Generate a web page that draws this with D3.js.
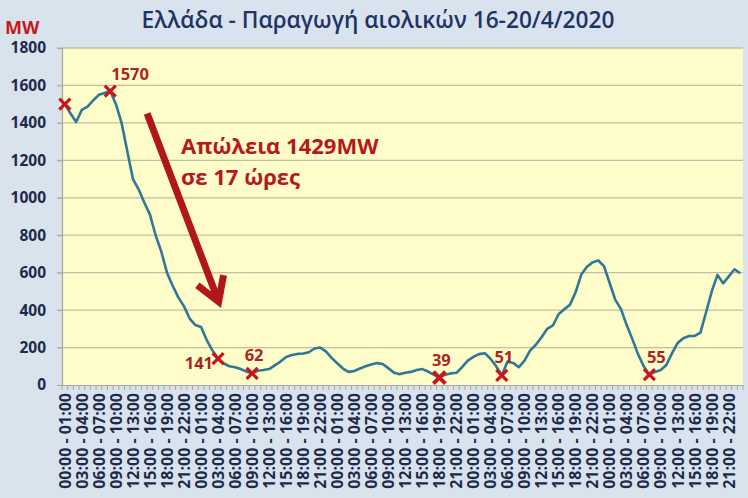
<!DOCTYPE html>
<html><head><meta charset="utf-8">
<script src="https://cdn.jsdelivr.net/npm/d3@7"></script>
<style>body{margin:0;background:#d9e3ee;} svg{display:block}</style>
</head><body><svg id="c" width="748" height="498"></svg>
<script>
// ---- data ----
const days = ["16/4", "17/4", "18/4", "19/4", "20/4"];
const hourLabels = ["00:00 - 01:00","01:00 - 02:00","02:00 - 03:00","03:00 - 04:00","04:00 - 05:00","05:00 - 06:00",
  "06:00 - 07:00","07:00 - 08:00","08:00 - 09:00","09:00 - 10:00","10:00 - 11:00","11:00 - 12:00",
  "12:00 - 13:00","13:00 - 14:00","14:00 - 15:00","15:00 - 16:00","16:00 - 17:00","17:00 - 18:00",
  "18:00 - 19:00","19:00 - 20:00","20:00 - 21:00","21:00 - 22:00","22:00 - 23:00","23:00 - 24:00"];
const windMW = [
  1500,1450,1405,1470,1487,1520,1550,1560,1570,1500,1400,1250,1100,1045,975,910,800,712,600,530,468,420,355,320,
  310,240,185,141,115,100,95,85,72,62,76,80,85,105,125,150,160,166,168,175,195,200,180,145,
  116,88,70,75,88,100,110,117,112,90,66,58,65,70,80,85,72,55,39,55,62,65,95,130,
  150,165,170,140,100,51,125,118,95,130,185,215,255,300,318,378,405,428,495,590,632,655,665,635,
  545,455,405,320,245,165,100,55,70,80,107,170,225,250,262,262,280,390,500,588,543,580,618,597];
const yTicks = [0,200,400,600,800,1000,1200,1400,1600,1800];
const markerIdx = [0, 8, 27, 33, 66, 77, 103];
const markerLabels = ["", "1570", "141", "62", "39", "51", "55"];
const titleText = "Ελλάδα - Παραγωγή αιολικών 16-20/4/2020";
const unitText = "MW";
const noteLines = ["Απώλεια 1429MW", "σε 17 ώρες"];

// ---- chart ----
const categories = days.flatMap(d => hourLabels.map(h => d + " " + h));
const hourOf = c => c.slice(c.indexOf(" ") + 1);

const svg = d3.select("#c");
const W = 748, H = 498;
const m = {l: 62, r: 5, t: 48, b: 113};
const x = d3.scaleBand().domain(categories).range([m.l, W - m.r]).padding(0);
const bw = x.bandwidth();
const cx = i => x(categories[i]) + bw / 2;
const xi = d3.scaleLinear().domain([0, categories.length - 1]).range([cx(0), cx(categories.length - 1)]);
const y = d3.scaleLinear().domain([0, 1800]).range([H - m.b, m.t]);

svg.append("rect").attr("width", W).attr("height", H).attr("fill", "#d9e3ee");
svg.append("rect").attr("x", m.l).attr("y", m.t).attr("width", W - m.r - m.l).attr("height", y(0) - m.t)
  .attr("fill", "#fefcc9");

// gridlines
svg.append("g").selectAll("line").data(yTicks.filter(v => v > 0)).join("line")
  .attr("x1", m.l - 5).attr("x2", W - m.r).attr("y1", d => y(d)).attr("y2", d => y(d))
  .attr("stroke", "#c2bea6").attr("stroke-width", 1.3);

// y axis
const ya = svg.append("g").attr("transform", `translate(${m.l},0)`)
  .call(d3.axisLeft(y).tickValues(yTicks).tickSize(5).tickPadding(11).tickFormat(d3.format("d")));
ya.select(".domain").attr("stroke", "#a8a8a0").attr("stroke-width", 1.2);
ya.selectAll(".tick line").attr("stroke", "#a8a8a0");
ya.selectAll("text").attr("font-family", "'Open Sans', sans-serif").attr("font-weight", 700)
  .attr("font-size", 15.5).attr("fill", "#1e2a4a");

// x axis
const xa = svg.append("g").attr("transform", `translate(0,${y(0)})`)
  .call(d3.axisBottom(x).tickSize(0).tickFormat(""));
xa.select(".domain").attr("stroke", "#a8a8a0").attr("stroke-width", 1.2);
xa.selectAll(".tick").remove();
// small ticks at every category boundary
xa.append("g").selectAll("line").data(d3.range(categories.length + 1)).join("line")
  .attr("x1", i => m.l + i * bw).attr("x2", i => m.l + i * bw).attr("y1", 0).attr("y2", 5)
  .attr("stroke", "#a8a8a0").attr("stroke-width", 1);
xa.append("g").selectAll("text").data(categories.filter((c, i) => i % 3 === 0)).join("text")
  .attr("transform", c => `translate(${x(c) + bw / 2},8) rotate(-90)`)
  .attr("text-anchor", "end").attr("dy", "0.36em")
  .attr("font-family", "'Open Sans', sans-serif").attr("font-weight", 700)
  .attr("font-size", 16).attr("fill", "#1e2a4a")
  .text(c => hourOf(c));

// line
svg.append("path").datum(windMW)
  .attr("d", d3.line().x((d, i) => cx(i)).y(d => y(d)))
  .attr("fill", "none").attr("stroke", "#2f7896").attr("stroke-width", 2.6).attr("stroke-linejoin", "round");

// markers
const mk = svg.append("g");
markerIdx.forEach((idx, k) => {
  const px = cx(idx), py = y(windMW[idx]), s = k === 4 ? 6 : 5.5;
  mk.append("path").attr("d", `M${px - s},${py - s}L${px + s},${py + s}M${px - s},${py + s}L${px + s},${py - s}`)
    .attr("stroke", "#c8161c").attr("stroke-width", k === 4 ? 4 : 3.2).attr("fill", "none");
  const lab = markerLabels[k];
  if (!lab) return;
  const t = mk.append("text").text(lab).attr("font-family", "'Open Sans', sans-serif")
    .attr("font-weight", 700).attr("font-size", 16.5).attr("fill", "#a8262a");
  if (k === 1) t.attr("x", px + 1).attr("y", py - 11).attr("text-anchor", "start");
  else if (k === 2) t.attr("x", px - 5).attr("y", py + 10).attr("text-anchor", "end");
  else t.attr("x", px + (k === 6 ? 7 : 2)).attr("y", py - 12).attr("text-anchor", "middle");
});

// arrow annotation (in data coordinates)
const a0 = [xi(14.5), y(1450)], a1 = [xi(27.1), y(445)];
const dx = a1[0] - a0[0], dy = a1[1] - a0[1], L = Math.hypot(dx, dy);
const ux = dx / L, uy = dy / L, pxp = -uy, pyp = ux;
const back = 23, half = 14;
const w1 = [a1[0] - back * ux + half * pxp, a1[1] - back * uy + half * pyp];
const w2 = [a1[0] - back * ux - half * pxp, a1[1] - back * uy - half * pyp];
svg.append("path").attr("d", `M${a0}L${a1[0] - 2 * ux},${a1[1] - 2 * uy}M${w1}L${a1}L${w2}`)
  .attr("stroke", "#b0161a").attr("stroke-width", 7).attr("fill", "none").attr("stroke-linejoin", "miter");

const nt = svg.append("text").attr("font-family", "'Open Sans', sans-serif").attr("font-weight", 700)
  .attr("font-size", 22).attr("fill", "#b5191d");
nt.append("tspan").attr("x", 181).attr("y", 154).text(noteLines[0]);
nt.append("tspan").attr("x", 181).attr("y", 185).text(noteLines[1]);

// title and unit
svg.append("text").attr("x", 378).attr("y", 28).attr("text-anchor", "middle")
  .attr("font-family", "'Open Sans', sans-serif").attr("font-weight", 600).attr("font-size", 22.7)
  .attr("fill", "#1f3466").text(titleText);
svg.append("text").attr("x", 5).attr("y", 34)
  .attr("font-family", "'Open Sans', sans-serif").attr("font-weight", 700).attr("font-size", 18)
  .attr("fill", "#c41a1a").text(unitText);
</script></body></html>
